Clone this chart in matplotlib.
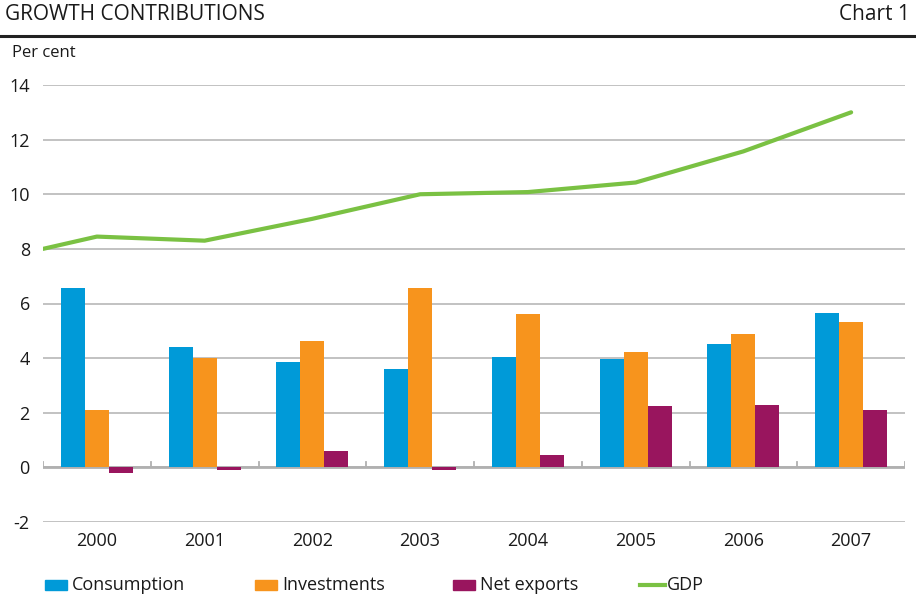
import numpy as np
import matplotlib.pyplot as plt
from matplotlib.patches import Rectangle
from matplotlib.lines import Line2D

plt.rcParams['font.family'] = ['Open Sans', 'DejaVu Sans']

# data
years = ['2000', '2001', '2002', '2003', '2004', '2005', '2006', '2007']
consumption = [6.55, 4.39, 3.87, 3.62, 4.05, 3.98, 4.53, 5.64]
investments = [2.1, 4.02, 4.64, 6.55, 5.6, 4.24, 4.87, 5.34]
net_exports = [-0.2, -0.1, 0.6, -0.08, 0.45, 2.25, 2.29, 2.11]
# GDP line starts at the left edge, then one point per year
gdp = [8.0, 8.45, 8.3, 9.1, 10.0, 10.08, 10.43, 11.57, 13.0]

c_blue = '#009AD8'
c_orange = '#F7941D'
c_purple = '#99155E'
c_green = '#7AC143'
grid_c = '#BDBDBD'
txt_c = '#1a1a1a'

fig = plt.figure(figsize=(9.16, 6.06), dpi=100)
ax = fig.add_axes([43 / 916, 1 - 522 / 606, (905 - 43) / 916, (522 - 85) / 606])

x = np.arange(len(years))
w = 0.222
ax.bar(x - w, consumption, w, color=c_blue, zorder=3)
ax.bar(x, investments, w, color=c_orange, zorder=3)
ax.bar(x + w, net_exports, w, color=c_purple, zorder=3)

gdp_x = np.concatenate([[-0.5], x])
ax.plot(gdp_x, gdp, color=c_green, lw=3, zorder=4, solid_capstyle='round')

ax.set_xlim(-0.5, len(years) - 0.5)
ax.set_ylim(-2, 14)
ax.set_yticks(range(-2, 15, 2))
ax.set_yticklabels([str(v) for v in range(-2, 15, 2)])
for v in range(-2, 15, 2):
    ax.axhline(v, color=grid_c, lw=1.3, zorder=1)
ax.axhline(0, color='#B0B0B0', lw=2, zorder=2)
# small category separator ticks on the zero line
for b in np.arange(-0.5, len(years), 1.0):
    ax.plot([b, b], [0, 0.18], color='#B0B0B0', lw=1.3, zorder=2)

for s in ax.spines.values():
    s.set_visible(False)
ax.tick_params(axis='y', length=0, pad=9.5, labelsize=13, labelcolor=txt_c)
ax.set_xticks(x)
ax.set_xticklabels(years)
ax.tick_params(axis='x', length=0, pad=7, labelsize=13, labelcolor=txt_c)

# header
fig.text(5 / 916, 1 - 15 / 606, 'GROWTH CONTRIBUTIONS', fontsize=15, color=txt_c,
         ha='left', va='center')
fig.text(910 / 916, 1 - 15 / 606, 'Chart 1', fontsize=15, color=txt_c,
         ha='right', va='center')
fig.add_artist(Line2D([0, 1], [1 - 36 / 606] * 2, color='#222222', lw=2.2))
fig.text(12 / 916, 1 - 53 / 606, 'Per cent', fontsize=12, color=txt_c,
         ha='left', va='center')

# legend
ly = 1 - 585 / 606
items = [(45, 'Consumption', c_blue, 'box'),
         (255, 'Investments', c_orange, 'box'),
         (453, 'Net exports', c_purple, 'box'),
         (640, 'GDP', c_green, 'line')]
for px, label, col, kind in items:
    if kind == 'box':
        fig.add_artist(Rectangle((px / 916, ly - 5 / 606), 22 / 916, 10 / 606,
                                 color=col, transform=fig.transFigure))
        tx = px + 27
    else:
        fig.add_artist(Line2D([px / 916, (px + 25) / 916], [ly, ly], color=col, lw=3))
        tx = px + 27
    fig.text(tx / 916, ly, label, fontsize=13, color=txt_c, ha='left', va='center')

fig.savefig('out.png', dpi=100)
